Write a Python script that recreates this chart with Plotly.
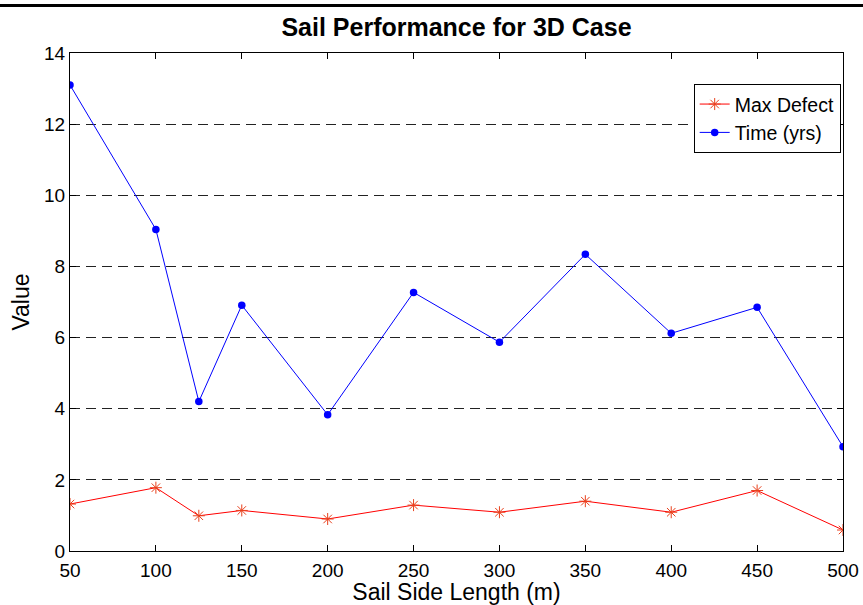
import plotly.graph_objects as go

sail_length = [50, 100, 125, 150, 200, 250, 300, 350, 400, 450, 500]
max_defect = [1.32, 1.78, 0.99, 1.14, 0.90, 1.29, 1.09, 1.40, 1.09, 1.70, 0.59]
time_yrs = [13.1, 9.04, 4.2, 6.91, 3.83, 7.27, 5.87, 8.34, 6.12, 6.85, 2.93]
x_ticks = [50, 100, 150, 200, 250, 300, 350, 400, 450, 500]
y_ticks = [0, 2, 4, 6, 8, 10, 12, 14]

FONT = "Liberation Sans, Arial, Helvetica, sans-serif"

fig = go.Figure()
fig.add_trace(go.Scatter(
    x=sail_length, y=max_defect, mode="lines+markers", name="Max Defect",
    line=dict(color="#ff0000", width=1),
    marker=dict(symbol="asterisk-open", size=10, color="#e8401c",
                line=dict(color="#e8401c", width=1)),
))
fig.add_trace(go.Scatter(
    x=sail_length, y=time_yrs, mode="lines+markers", name="Time (yrs)",
    line=dict(color="#0000ff", width=1),
    marker=dict(symbol="circle", size=7.5, color="#0000ff"),
))

axis_common = dict(
    showline=True, linecolor="black", linewidth=1, mirror="ticks",
    ticks="inside", ticklen=6, tickcolor="black", zeroline=False,
    automargin=False,
    tickfont=dict(family=FONT, size=19, color="black"),
)
fig.update_xaxes(
    range=[50, 500], tickvals=x_ticks, showgrid=False, ticklabelstandoff=2,
    title=dict(text="Sail Side Length (m)", font=dict(family=FONT, size=23, color="black"), standoff=1),
    **axis_common,
)
fig.update_yaxes(
    range=[0, 14], tickvals=y_ticks, showgrid=True, gridcolor="#222222",
    griddash="10px,6px", gridwidth=1,
    title=dict(text="Value", font=dict(family=FONT, size=23, color="black"), standoff=8),
    **axis_common,
)
fig.update_layout(
    width=863, height=605,
    margin=dict(l=70, r=20, t=53, b=54),
    paper_bgcolor="white", plot_bgcolor="white",
    title=dict(text="<b>Sail Performance for 3D Case</b>", x=0.5, xref="paper", xanchor="center",
               y=1 - 27 / 605, yanchor="middle",
               font=dict(family=FONT, size=25, color="black")),
    legend=dict(x=0.997, xanchor="right", y=0.938, yanchor="top",
                bgcolor="white", bordercolor="black", borderwidth=1,
                font=dict(family=FONT, size=19.5, color="black"),
                tracegroupgap=0),
    showlegend=True,
    shapes=[dict(type="line", xref="paper", yref="paper",
                 x0=-0.1, x1=1.03, y0=(551 - 5.5) / 498, y1=(551 - 5.5) / 498,
                 line=dict(color="black", width=3))],
)
fig.write_html("out.html", config={"displayModeBar": False},
               post_script="document.body.style.margin='0px';")
